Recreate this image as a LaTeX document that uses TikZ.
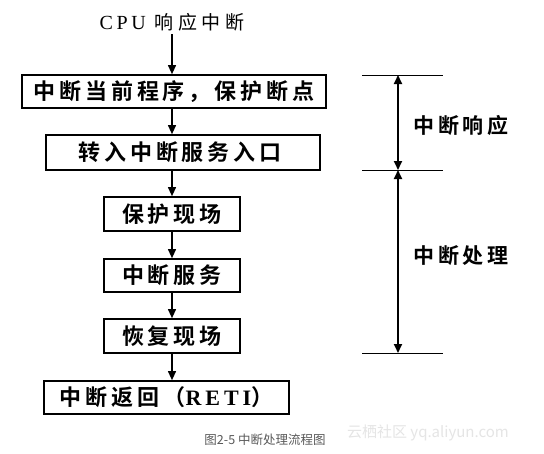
\documentclass[tikz,border=0pt]{standalone}
\usepackage{fontspec}
\setmainfont{Noto Sans CJK SC}[BoldFont=* Bold]
\newfontfamily\cjkb{Noto Sans CJK SC}[BoldFont=* Bold,LetterSpace=18]
\newfontfamily\cjkt{Noto Sans CJK SC}[LetterSpace=24]
\newfontfamily\latb{Liberation Serif}[LetterSpace=18]
\usetikzlibrary{arrows.meta}
\tikzset{
  stepbox/.style={draw,line width=1.7pt,inner sep=0pt,font=\cjkb\bfseries\fontsize{22}{24}\selectfont},
  flow/.style={line width=1.1pt,-{Triangle[length=9pt,width=8pt]}},
  span/.style={line width=1.8pt,{Triangle[length=9pt,width=8pt]}-{Triangle[length=9pt,width=8pt]}},
  tick/.style={line width=0.7pt},
  side/.style={font=\cjkb\bfseries\fontsize{21}{23}\selectfont},
}
\begin{document}
\begin{tikzpicture}[x=1pt,y=-1pt]
\useasboundingbox[fill=white] (0,0) rectangle (544,453);
\node[font=\cjkt\fontsize{19}{21}\selectfont] (title) at (172,22) {{\latb\fontsize{20}{22}\selectfont CPU} 响应中断};
\node[stepbox,minimum width=304pt,minimum height=33pt] (b1) at (174,91.5) {中断当前程序，保护断点};
\node[stepbox,minimum width=274pt,minimum height=35pt] (b2) at (183,152.5) {\hspace{-6pt}转入中断服务入口};
\node[stepbox,minimum width=136pt,minimum height=34pt] (b3) at (172,214) {保护现场};
\node[stepbox,minimum width=136pt,minimum height=33pt] (b4) at (172,275.5) {中断服务};
\node[stepbox,minimum width=136pt,minimum height=34pt] (b5) at (172,336) {恢复现场};
\node[stepbox,minimum width=245pt,minimum height=33pt] (b6) at (166.5,397.5) {中断返回（{\latb\bfseries RETI}）};
\coordinate (spine) at (172,0);
\draw[flow] (spine |- title.south) -- (spine |- b1.north);
\draw[flow] (spine |- b1.south) -- (spine |- b2.north);
\draw[flow] (spine |- b2.south) -- (spine |- b3.north);
\draw[flow] (b3.south) -- (b4.north);
\draw[flow] (b4.south) -- (b5.north);
\draw[flow] (spine |- b5.south) -- (spine |- b6.north);
% right side
\coordinate (h1a) at (362,75);  \coordinate (h1b) at (443,75);
\coordinate (h2a) at (362,170); \coordinate (h2b) at (443,170);
\coordinate (h3a) at (362,353); \coordinate (h3b) at (443,353);
\coordinate (v1) at (398,75); \coordinate (v2) at (398,170); \coordinate (v3) at (398,353);
\draw[tick] (h1a) -- (h1b);
\draw[tick] (h2a) -- (h2b);
\draw[tick] (h3a) -- (h3b);
\draw[span] (v1) -- (v2);
\draw[span] (v2) -- (v3);
\node[side] (l1) at (461,125) {中断响应};
\node[side] (l2) at (461,256) {中断处理};
\node[font=\fontsize{12.5}{14}\selectfont,text=black!65] (cap) at (265,440) {图2-5 中断处理流程图};
\node[font=\fontsize{15}{17}\selectfont,text=black!10] (wm) at (428,433) {云栖社区 yq.aliyun.com};
\end{tikzpicture}
\end{document}
